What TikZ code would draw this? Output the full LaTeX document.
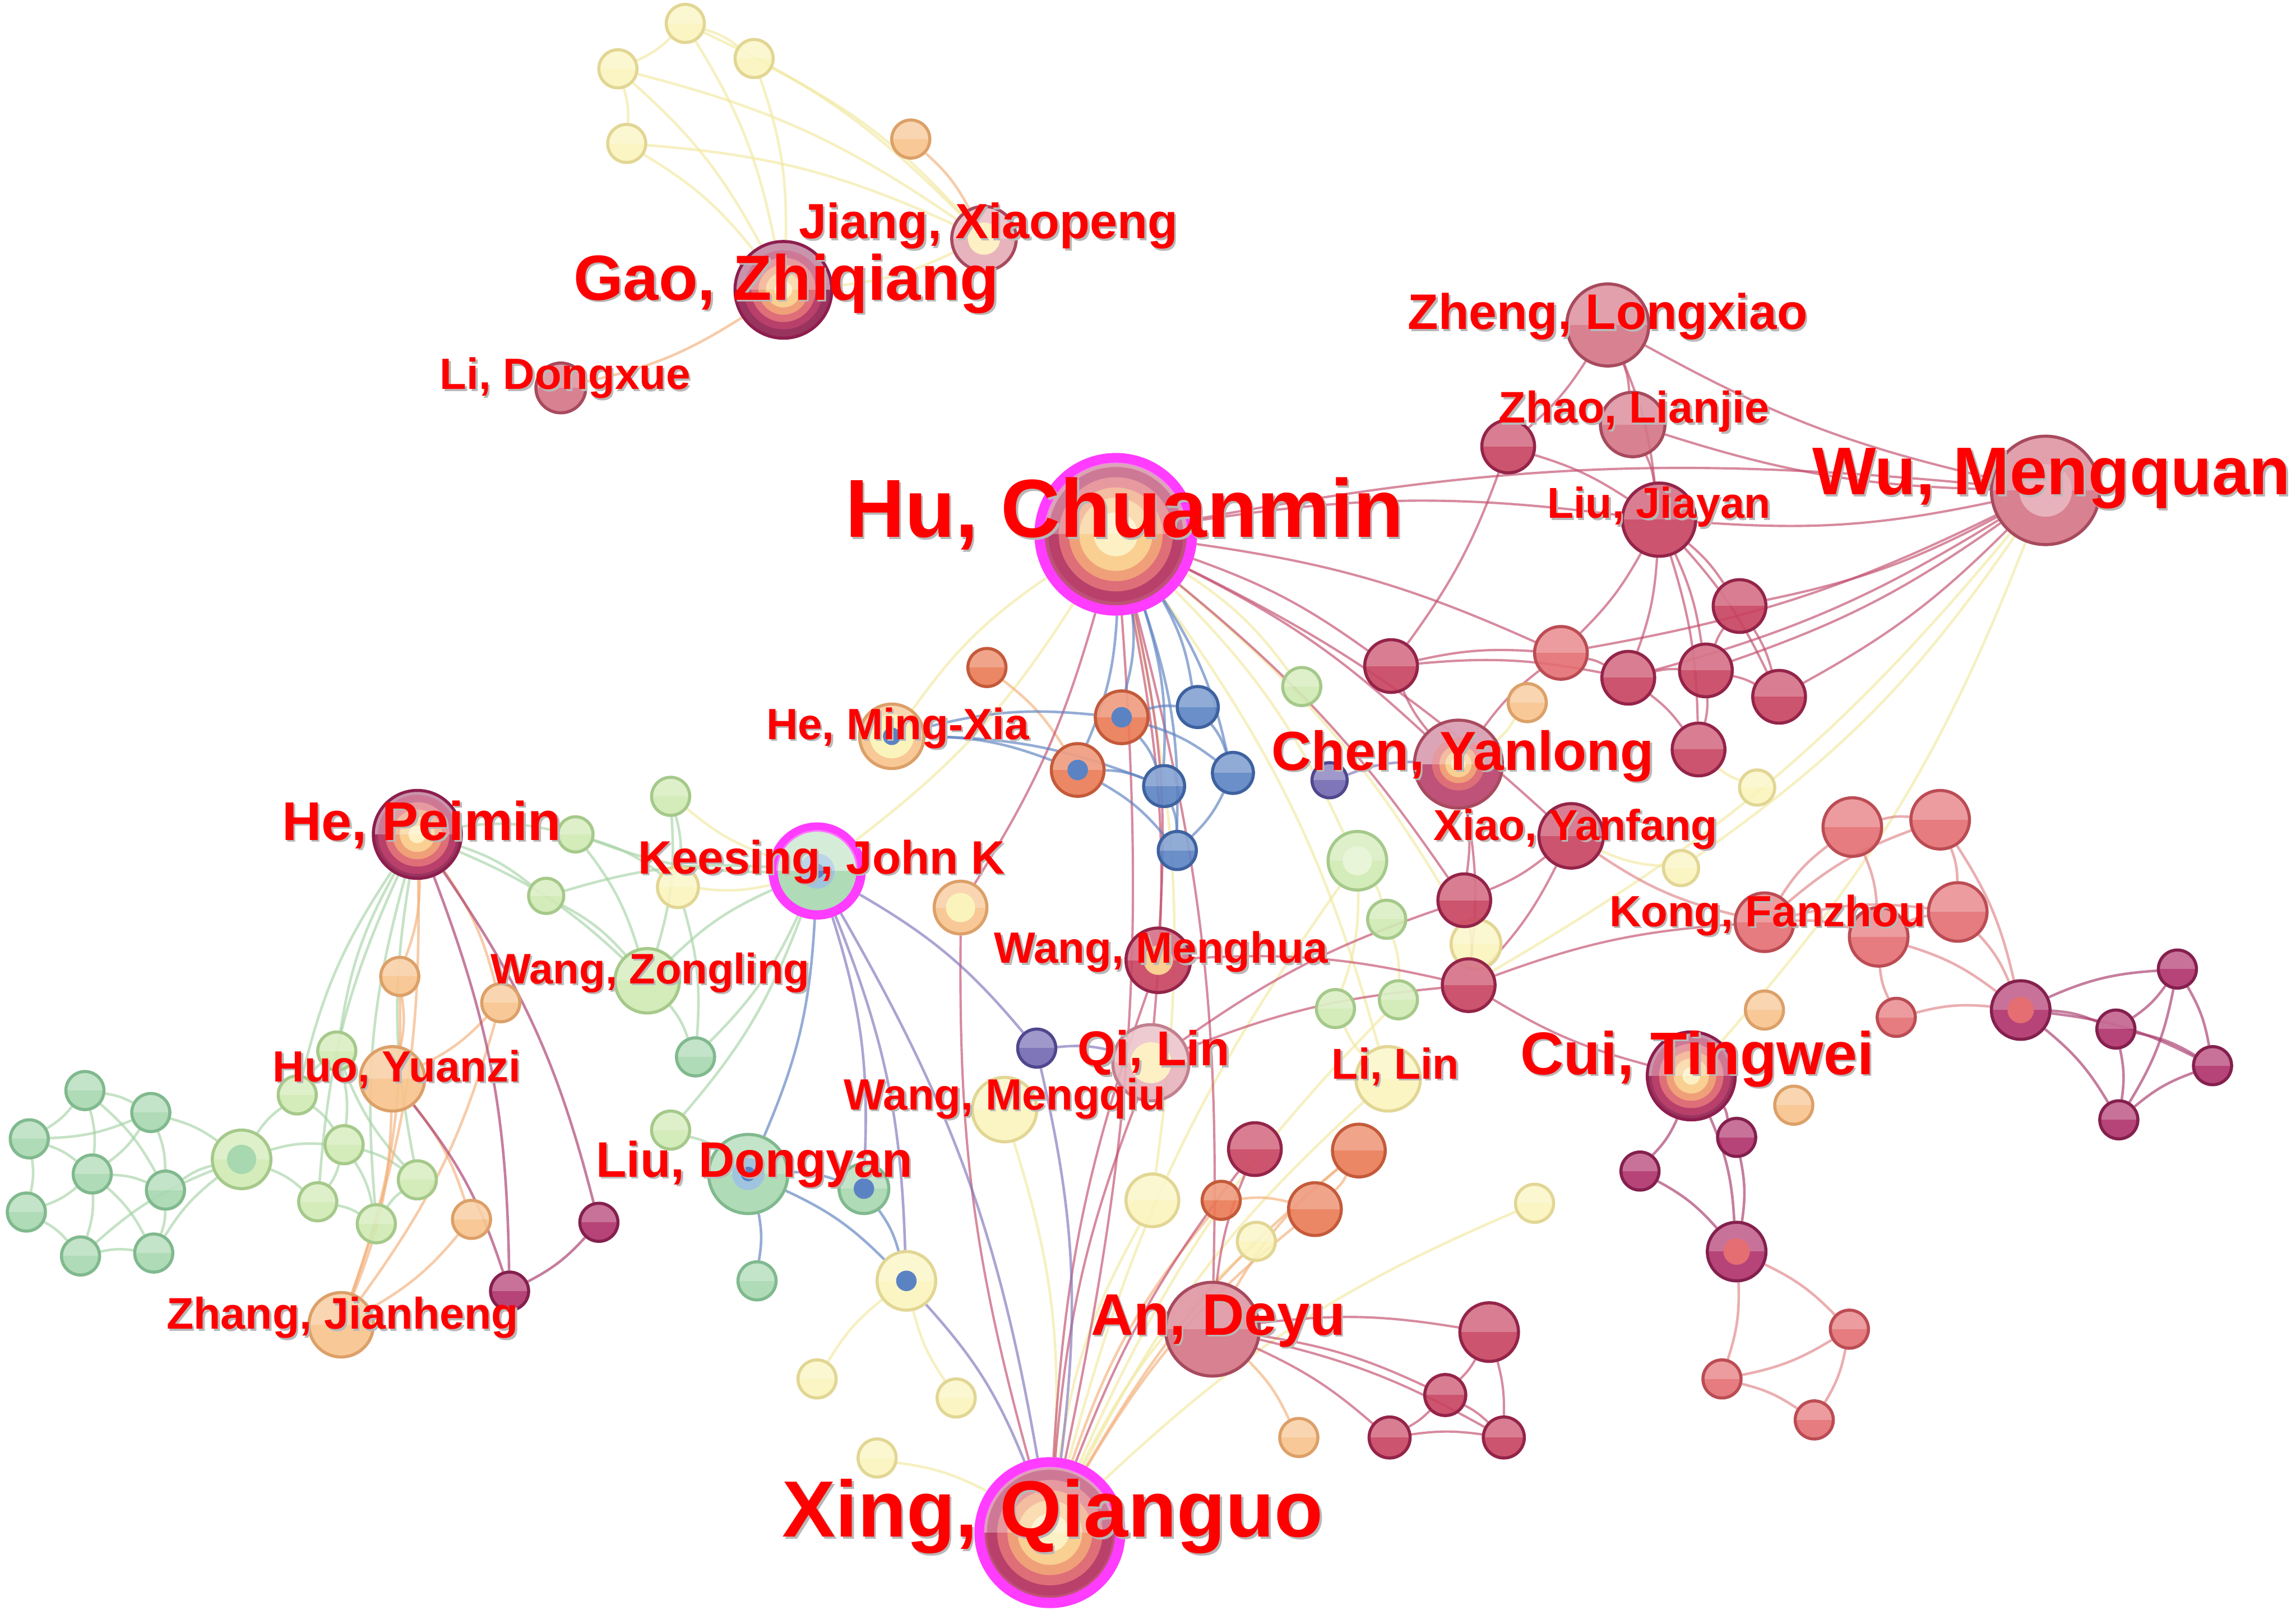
\documentclass[tikz,border=0pt]{standalone}
\usepackage{fontspec}
\setmainfont{Liberation Sans}
\usetikzlibrary{backgrounds}
\definecolor{grnF}{HTML}{A7D8B0}\definecolor{grnD}{HTML}{80B98E}
\definecolor{lgrF}{HTML}{D0EAB2}\definecolor{lgrD}{HTML}{A5C98A}
\definecolor{yelF}{HTML}{FAF4BC}\definecolor{yelD}{HTML}{E2D694}
\definecolor{orgF}{HTML}{F8C48C}\definecolor{orgD}{HTML}{DCA068}
\definecolor{ordF}{HTML}{EB7A55}\definecolor{ordD}{HTML}{C45A3A}
\definecolor{bluF}{HTML}{5B83C4}\definecolor{bluD}{HTML}{3E62A0}
\definecolor{purF}{HTML}{7268B2}\definecolor{purD}{HTML}{4F478E}
\definecolor{drdF}{HTML}{C8425F}\definecolor{drdD}{HTML}{942449}
\definecolor{magF}{HTML}{B0306A}\definecolor{magD}{HTML}{84204E}
\definecolor{salF}{HTML}{E46E72}\definecolor{salD}{HTML}{BC4C54}
\definecolor{rosF}{HTML}{D47485}\definecolor{rosD}{HTML}{A84A5E}
\definecolor{ringM}{HTML}{FF3CFF}
\definecolor{rk0}{HTML}{8E1E4E}\definecolor{rk1}{HTML}{B8406A}
\definecolor{rk2}{HTML}{DE6E78}\definecolor{rk3}{HTML}{F0A078}
\definecolor{rk4}{HTML}{F9CF92}\definecolor{rk5}{HTML}{FDF0C4}
\definecolor{lbl}{HTML}{9FC4E0}
\definecolor{eyel}{HTML}{F2E9A0}\definecolor{egrn}{HTML}{A6D3A6}
\definecolor{eorg}{HTML}{F4B07A}\definecolor{edrd}{HTML}{C24C6C}
\definecolor{eblu}{HTML}{5C80C0}\definecolor{epur}{HTML}{7F74BA}
\definecolor{esal}{HTML}{E08486}\definecolor{emag}{HTML}{A8386A}
\tikzset{
  nd/.style={circle,inner sep=0pt,minimum size=#1*0.02cm,line width=0.6pt,fill opacity=.9,
    path picture={\fill[white,fill opacity=.25] (path picture bounding box.north west) rectangle (path picture bounding box.east);}},
  grn/.style={fill=grnF,draw=grnD}, lgr/.style={fill=lgrF,draw=lgrD},
  yel/.style={fill=yelF,draw=yelD}, org/.style={fill=orgF,draw=orgD},
  ord/.style={fill=ordF,draw=ordD}, blu/.style={fill=bluF,draw=bluD},
  pur/.style={fill=purF,draw=purD}, drd/.style={fill=drdF,draw=drdD},
  mag/.style={fill=magF,draw=magD}, sal/.style={fill=salF,draw=salD},
  ros/.style={fill=rosF,draw=rosD},
  ed/.style={line width=0.5pt,draw opacity=.65},
  lab/.style={inner sep=0pt,anchor=base,text=red,font=\bfseries\fontsize{#1}{#1}\selectfont},
  shd/.style={lab=#1,text=black!28},
}
% label with a soft grey shadow
\newcommand\nm[5]{\node[shd=#4] (#1s) at (#2+1.3,#3+1.3) {#5};\node[lab=#4] (#1) at (#2,#3) {#5};}
% lit upper half of a ringed node
\newcommand\glow[2]{\begin{scope}\clip (#1) circle[radius=#2*0.01cm];\fill[white,fill opacity=.3] (#1) ++(-#2,-#2) rectangle ++(2*#2,#2);\end{scope}}

\begin{document}
\begin{tikzpicture}[x=0.01cm,y=-0.01cm]
\useasboundingbox (0,0) rectangle (1568,1103);

% plain nodes
\foreach \n/\x/\y/\s in {g1/58/745/13,g2/103/760/13,g3/20/778/13,g4/63/802/13,g5/113/813/13,g6/18/828/13,g7/55/858/13,g8/105/856/13,g9/475/722/13,g10/517/875/13}
  \node[nd=\s,grn] (\n) at (\x,\y) {};
\foreach \n/\x/\y/\s in {l2/203/748/13,l3/230/718/13,l4/235/782/13,l5/217/821/13,l6/257/836/13,l7/285/806/13,l8/458/544/13,l9/393/570/12,l10/373/612/12,l11/889/469/13,l13/947/628/13,l14/912/689/13,l15/955/683/13,g11/458/772/13,wzl/442/670/22}
  \node[nd=\s,lgr] (\n) at (\x,\y) {};
\foreach \n/\x/\y/\s in {y1/468/16/13,y2/422/47/13,y3/515/40/13,y4/428/98/13,y5/463/606/14,y7/1200/538/12,y8/1148/593/12,y9/1008/645/17,y10/787/820/18,y11/858/848/13,y12/1048/822/13,y13/558/942/13,y14/653/955/13,y15/599/996/13,y16/686/758/22,y17/948/737/22}
  \node[nd=\s,yel] (\n) at (\x,\y) {};
\foreach \n/\x/\y/\s in {o1/622/95/13,o2/273/667/13,o3/342/685/13,o4/322/833/13,o5/887/982/13,huo/268/737/22,zhang/233/905/22,y18/1205/690/13,y19/1225/755/13,y6/1043/480/13}
  \node[nd=\s,org] (\n) at (\x,\y) {};
\foreach \n/\x/\y/\s in {r1/674/456/13,r4/834/820/13,r5/928/786/18,r6/898/826/18}
  \node[nd=\s,ord] (\n) at (\x,\y) {};
\foreach \n/\x/\y/\s in {b1/818/483/14,b2/795/537/14,b3/842/528/14,b4/804/581/13}
  \node[nd=\s,blu] (\n) at (\x,\y) {};
\foreach \n/\x/\y/\s in {p1/908/533/12,p2/708/716/13}
  \node[nd=\s,pur] (\n) at (\x,\y) {};
\foreach \n/\x/\y/\s in {d1/1030/305/18,d2/950/455/18,d4/1112/463/18,d5/1165/458/18,d6/1188/414/18,d7/1215/476/18,d8/1160/512/18,d9/1000/615/18,d10/1003/673/18,d11/857/785/18,d12/1017/910/20,d13/987/953/14,d14/949/982/14,d15/1027/982/14,liuj/1133/355/25,xiao/1073/571/22}
  \node[nd=\s,drd] (\n) at (\x,\y) {};
\foreach \n/\x/\y/\s in {m1/409/835/13,m2/348/882/13,m3/1487/662/13,m4/1445/703/13,m5/1511/728/13,m6/1447/765/13,m7/1120/800/13,m8/1186/777/13}
  \node[nd=\s,mag] (\n) at (\x,\y) {};
\foreach \n/\x/\y/\s in {s1/1265/565/20,s2/1325/560/20,kong/1205/630/20,s3/1283/640/20,s4/1337/623/20,s5/1295/695/13,s6/1263/908/13,s7/1176/942/13,s8/1239/970/13,d3/1066/446/18}
  \node[nd=\s,sal] (\n) at (\x,\y) {};
\foreach \n/\x/\y/\s in {zheng/1098/222/28,zhao/1115/290/22,lid/383/265/17,an/828/908/32}
  \node[nd=\s,ros] (\n) at (\x,\y) {};

% nodes with a core
\node[nd=37,ros] (wu) at (1397,335) {};
\node[nd=22,fill=rosF!60,draw=rosD] (jiang) at (672,163) {};
\node[nd=26,fill=rosF!55,draw=rosD!70] (qil) at (786,726) {};
\node[nd=22,drd] (wmh) at (791,656) {};
\node[nd=22,org] (hemx) at (609,503) {};
\node[nd=27,grn] (liud) at (511,802) {};
\node[nd=20,yel] (y20) at (619,875) {};
\node[nd=17,grn] (g12) at (590,812) {};
\node[nd=18,ord] (r2) at (766,490) {};
\node[nd=18,ord] (r3) at (736,526) {};
\node[nd=20,lgr] (l1) at (165,792) {};
\node[nd=20,lgr] (l12) at (927,588) {};
\node[nd=18,org] (o6) at (656,620) {};
\node[nd=20,mag] (m9) at (1380,690) {};
\node[nd=20,mag] (m10) at (1186,855) {};
\foreach \n/\s/\c in {wu/18/rosF!55,jiang/11/rk5,qil/14/rk5,wmh/10/rk4,hemx/15/yelF,hemx/6/bluF,liud/11/lbl,liud/5/bluF,y20/7/bluF,g12/7/bluF,r2/7/bluF,r3/7/bluF,l1/10/grnF,l12/10/lgrF!50,o6/10/yelF,m9/9/salF,m10/9/salF}
  \fill[\c] (\n) circle[radius=\s*0.01cm];

% ringed hubs
\node[nd=52,fill=rk1,draw=ringM,line width=2pt] (hu) at (762,365) {};
\node[nd=48,fill=rk1,draw=ringM,line width=2pt] (xing) at (717,1047) {};
\node[nd=30,grn,draw=ringM,line width=1.8pt] (keesing) at (558,595) {};
\node[nd=33,fill=rk0,draw=rk0] (gao) at (535,198) {};
\node[nd=30,fill=rk1,draw=rosD] (chen) at (996,522) {};
\node[nd=30,fill=rk0,draw=rk0] (hep) at (285,570) {};
\node[nd=30,fill=rk0,draw=rk0] (cui) at (1155,735) {};
\foreach \rr/\cc in {46/rk1,39/rk2,32/rk3,25/rk4,15/rk5} \fill[\cc] (hu) circle[radius=\rr*0.01cm];
\foreach \rr/\cc in {43/rk1,36/rk2,29/rk3,22/rk4,13/rk5} \fill[\cc] (xing) circle[radius=\rr*0.01cm];
\foreach \n in {gao,hep,cui}
  \foreach \rr/\cc in {27/rk1,22/rk2,17/rk3,12/rk4,6/rk5} \fill[\cc] (\n) circle[radius=\rr*0.01cm];
\foreach \rr/\cc in {18/rk2,13/rk3,9/rk4,5/rk5} \fill[\cc] (chen) circle[radius=\rr*0.01cm];
\foreach \rr/\cc in {12/lbl,5/bluF} \fill[\cc] (keesing) circle[radius=\rr*0.01cm];
\glow{hu}{49}\glow{xing}{45}\glow{gao}{32}\glow{chen}{29}\glow{hep}{29}\glow{cui}{29}\glow{keesing}{28}

% links
\begin{pgfonlayer}{background}
\fill[white] (0,0) rectangle (1568,1103);
\foreach \a/\b in {y1/y2,y1/y3,y2/y4,y1/jiang,y2/jiang,y3/jiang,y4/jiang,y2/gao,y4/gao,y3/gao,y1/gao,jiang/gao,hu/keesing,hu/l12,hu/y17,hu/y9,wu/d10,wu/cui,wu/y8,hu/y10,xing/y17,xing/y10,xing/y12,xing/y11,y13/y20,y14/y20,y15/xing,l12/l13,l12/l14,l13/l15,y17/l14,keesing/y5,keesing/l8,hemx/hu,y6/chen,y7/d8,y8/xiao,y9/d10,xing/l12,xing/l15,hu/l11,y16/xing}
  \draw[ed,eyel] (\a) to[bend left=10] (\b);
\foreach \a/\b in {g1/g2,g1/g3,g1/g4,g1/g5,g2/g4,g2/g5,g2/g3,g3/g4,g3/g6,g4/g5,g4/g6,g4/g7,g4/g8,g5/g8,g6/g7,g7/g8,g5/l1,g2/l1,g8/l1,g7/l1,l1/l2,l1/l4,l1/l5,l2/l3,l2/l4,l3/l4,l4/l5,l5/l6,l4/l6,l6/l7,l4/l7,l7/l3,l3/hep,l2/hep,l5/hep,hep/l9,hep/l10,hep/wzl,l10/wzl,l9/wzl,wzl/g9,wzl/keesing,l8/wzl,l9/y5,y5/g9,keesing/g9,keesing/l9,l8/y5,l10/keesing,keesing/g11,g11/liud,l6/hep,l7/hep}
  \draw[ed,egrn] (\a) to[bend left=10] (\b);
\foreach \a/\b in {o1/jiang,gao/lid,hep/o2,hep/o3,o2/huo,o3/huo,hep/zhang,huo/zhang,o3/zhang,o4/zhang,huo/o4,o2/zhang,xing/r5,xing/r6,xing/r4,r4/r6,r5/r6,an/r5,an/o5,r1/r3}
  \draw[ed,eorg] (\a) to[bend left=10] (\b);
\foreach \a/\b in {hu/chen,hu/wu,hu/liuj,hu/d2,hu/d3,hu/xiao,hu/d9,hu/xing,hu/an,hu/wmh,hu/qil,wu/liuj,wu/d4,wu/d5,wu/d6,wu/d7,wu/d3,wu/zheng,wu/zhao,zheng/d1,zheng/liuj,zheng/zhao,zhao/liuj,d1/liuj,d1/d2,liuj/d3,liuj/d4,liuj/d5,liuj/d6,liuj/d7,liuj/d8,d2/d3,d2/d4,d3/d4,d4/d5,d5/d6,d5/d7,d6/d7,d4/d8,d5/d8,chen/d3,chen/d9,chen/d10,xiao/d9,xiao/d10,d9/d10,wmh/d10,qil/d9,qil/d10,d10/kong,an/d12,an/d13,an/d14,an/d15,d12/d13,d12/d15,d13/d14,d13/d15,d14/d15,xing/d11,an/d11,xing/wmh,xing/qil,xing/o6,hu/o6,cui/d10,chen/d2}
  \draw[ed,edrd,line width=0.45pt] (\a) to[bend left=8] (\b);
\foreach \a/\b in {hu/r2,hu/b1,hu/b2,hu/b3,hu/b4,hu/r3,hemx/r2,hemx/r3,hemx/b2,r2/b1,r2/b3,r3/b2,r2/b2,b2/b4,b3/b4,b1/b3,r3/b4,keesing/liud,liud/g12,liud/y20,g12/y20,liud/g10}
  \draw[ed,eblu] (\a) to[bend left=10] (\b);
\foreach \a/\b in {keesing/p2,keesing/xing,keesing/y20,p2/qil,p2/xing,y20/xing,p1/chen,keesing/g12}
  \draw[ed,epur] (\a) to[bend left=10] (\b);
\foreach \a/\b in {kong/s1,kong/s2,kong/s3,kong/s4,s1/s2,s1/s3,s2/s4,s3/s4,s4/m9,s3/m9,s5/s3,s5/m9,kong/xiao,s2/m9,m10/s6,m10/s7,s6/s8,s7/s8,s6/s7}
  \draw[ed,esal] (\a) to[bend left=10] (\b);
\foreach \a/\b in {m9/m3,m9/m4,m9/m5,m9/m6,m3/m4,m3/m5,m3/m6,m4/m5,m4/m6,m6/m5,cui/m7,cui/m8,cui/m10,m7/m10,m8/m10,hep/m1,hep/m2,m1/m2,huo/m2}
  \draw[ed,emag] (\a) to[bend left=10] (\b);
\end{pgfonlayer}

% names
\nm{tgao}{537}{205}{12.4}{Gao, Zhiqiang}
\nm{tjiang}{675}{163}{9.6}{Jiang, Xiaopeng}
\nm{tlid}{386}{266}{8.5}{Li, Dongxue}
\nm{tzheng}{1098}{225}{9.7}{Zheng, Longxiao}
\nm{tzhao}{1116}{289}{8.6}{Zhao, Lianjie}
\nm{tliuj}{1133}{354}{8.4}{Liu, Jiayan}
\nm{twu}{1401}{338}{13.1}{Wu, Mengquan}
\nm{thu}{768}{367}{16}{Hu, Chuanmin}
\nm{themx}{613}{505}{8.5}{He, Ming-Xia}
\nm{tchen}{999}{526}{10.7}{Chen, Yanlong}
\nm{thep}{288}{574}{10.6}{He, Peimin}
\nm{tkees}{561}{597}{9.1}{Keesing, John K}
\nm{txiao}{1076}{574}{8.4}{Xiao, Yanfang}
\nm{tkong}{1207}{633}{8.5}{Kong, Fanzhou}
\nm{twmh}{793}{658}{8.5}{Wang, Menghua}
\nm{twzl}{444}{672}{8.3}{Wang, Zongling}
\nm{tqil}{788}{728}{9.5}{Qi, Lin}
\nm{tlil}{953}{737}{8.4}{Li, Lin}
\nm{tcui}{1159}{734}{11.7}{Cui, Tingwei}
\nm{thuo}{271}{739}{8.5}{Huo, Yuanzi}
\nm{twmq}{686}{758}{8.5}{Wang, Mengqiu}
\nm{tliud}{515}{804}{9.7}{Liu, Dongyan}
\nm{tzhang}{234}{908}{8.6}{Zhang, Jianheng}
\nm{tan}{832}{912}{11.4}{An, Deyu}
\nm{txing}{719}{1050}{15.5}{Xing, Qianguo}
\end{tikzpicture}
\end{document}
